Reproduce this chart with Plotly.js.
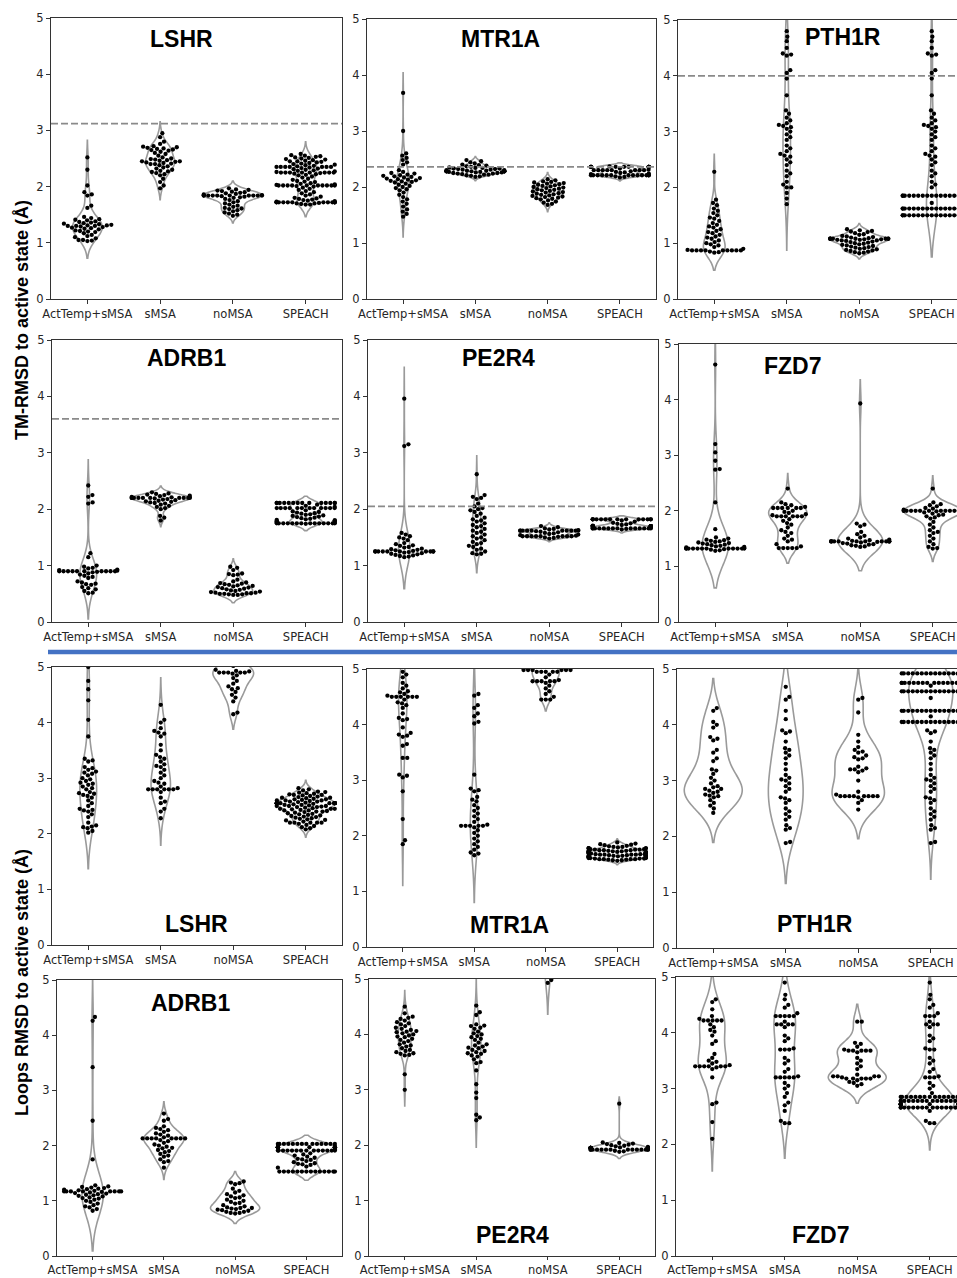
<!DOCTYPE html>
<html><head><meta charset="utf-8">
<script src="https://cdn.plot.ly/plotly-3.0.1.min.js"></script>
<style>html,body{margin:0;padding:0;overflow:hidden;background:#fff}#chart{width:980px;height:1278px}</style>
</head><body><div id="chart"></div>
<script>
const categories = ['ActTemp+sMSA','sMSA','noMSA','SPEACH'];

// ---------- TM-RMSD ----------
const LSHR_TM_act = [2.52,2.30,2.02,1.90,1.86,1.84,1.66,1.62,1.46,1.44,1.42,1.41,1.40,1.38,1.37,1.36,1.35,1.34,1.33,1.32,1.31,1.31,1.30,1.30,1.30,1.29,1.28,1.27,1.26,1.25,1.24,1.22,1.21,1.20,1.19,1.17,1.14,1.12,1.10,1.08,1.05,1.05,1.04,1.03];
const LSHR_TM_smsa = [2.95,2.88,2.80,2.76,2.72,2.71,2.70,2.69,2.68,2.67,2.66,2.65,2.64,2.62,2.60,2.58,2.55,2.52,2.50,2.49,2.48,2.47,2.46,2.45,2.45,2.44,2.43,2.42,2.41,2.40,2.40,2.38,2.36,2.34,2.32,2.30,2.28,2.27,2.26,2.24,2.22,2.20,2.14,2.08,2.02,1.97];
const LSHR_TM_nomsa = [1.97,1.95,1.94,1.93,1.92,1.91,1.90,1.89,1.88,1.87,1.86,1.85,1.84,1.84,1.84,1.84,1.84,1.84,1.84,1.84,1.84,1.84,1.83,1.82,1.81,1.80,1.78,1.76,1.74,1.72,1.70,1.68,1.66,1.64,1.62,1.61,1.60,1.58,1.56,1.54,1.52,1.50,1.48];
const LSHR_TM_speach = [2.58,2.56,2.55,2.54,2.53,2.52,2.51,2.50,2.49,2.48,2.47,2.46,2.45,2.45,2.44,2.43,2.42,2.41,2.40,2.39,2.38,2.37,2.36,2.35,2.35,2.35,2.35,2.35,2.35,2.35,2.34,2.33,2.32,2.31,2.30,2.29,2.28,2.27,2.26,2.25,2.25,2.25,2.25,2.25,2.25,2.25,2.25,2.24,2.23,2.22,2.21,2.20,2.18,2.16,2.14,2.12,2.10,2.09,2.08,2.06,2.05,2.04,2.03,2.02,2.02,2.02,2.02,2.02,2.02,2.02,2.02,2.02,2.02,2.01,2.00,1.98,1.96,1.94,1.92,1.90,1.88,1.86,1.84,1.82,1.80,1.79,1.78,1.77,1.76,1.75,1.74,1.73,1.72,1.72,1.72,1.72,1.72,1.72,1.72,1.72,1.72,1.72,1.72,1.72,1.71,1.70,1.70,1.69,1.68,1.68];

const MTR1A_TM_act = [3.68,3.00,2.60,2.56,2.52,2.48,2.44,2.40,2.30,2.27,2.25,2.24,2.22,2.21,2.20,2.19,2.18,2.17,2.16,2.15,2.14,2.13,2.12,2.11,2.10,2.09,2.08,2.06,2.04,2.02,2.00,1.98,1.96,1.94,1.90,1.86,1.82,1.78,1.74,1.70,1.65,1.60,1.56,1.52,1.47];
const MTR1A_TM_smsa = [2.48,2.46,2.44,2.42,2.40,2.39,2.38,2.37,2.36,2.35,2.34,2.34,2.33,2.33,2.32,2.32,2.31,2.31,2.30,2.30,2.29,2.29,2.28,2.28,2.28,2.28,2.28,2.28,2.28,2.28,2.27,2.27,2.26,2.26,2.25,2.25,2.24,2.24,2.23,2.22,2.22,2.21,2.20,2.19,2.18];
const MTR1A_TM_nomsa = [2.14,2.12,2.10,2.09,2.08,2.07,2.06,2.05,2.04,2.03,2.02,2.01,2.00,1.99,1.98,1.97,1.96,1.95,1.94,1.93,1.92,1.91,1.90,1.89,1.88,1.87,1.86,1.85,1.84,1.83,1.82,1.81,1.80,1.79,1.78,1.76,1.74,1.72,1.70,1.68];
const MTR1A_TM_speach = [2.37,2.36,2.36,2.36,2.36,2.36,2.36,2.36,2.36,2.36,2.36,2.36,2.36,2.36,2.33,2.31,2.30,2.30,2.30,2.30,2.30,2.30,2.30,2.30,2.28,2.27,2.26,2.25,2.24,2.23,2.21,2.21,2.21,2.21,2.21,2.21,2.21,2.21,2.21,2.21,2.21,2.21,2.21,2.19,2.18,2.17];

const PTH1R_TM_act = [2.28,1.78,1.72,1.68,1.62,1.58,1.54,1.50,1.46,1.44,1.40,1.36,1.33,1.30,1.28,1.25,1.22,1.20,1.18,1.15,1.12,1.10,1.08,1.05,1.02,1.00,0.98,0.96,0.93,0.90,0.88,0.87,0.87,0.87,0.87,0.87,0.87,0.87,0.87,0.87,0.85,0.84,0.83];
const PTH1R_TM_smsa = [4.80,4.70,4.62,4.50,4.40,4.38,4.36,4.10,4.05,3.95,3.65,3.38,3.32,3.25,3.20,3.15,3.12,3.10,3.08,3.05,3.00,2.95,2.90,2.85,2.75,2.70,2.65,2.60,2.57,2.55,2.50,2.45,2.40,2.30,2.25,2.20,2.10,2.05,2.00,2.00,1.90,1.80,1.70];
const PTH1R_TM_nomsa = [1.25,1.23,1.22,1.21,1.20,1.18,1.16,1.15,1.13,1.12,1.11,1.10,1.09,1.08,1.08,1.08,1.08,1.08,1.08,1.08,1.08,1.07,1.07,1.06,1.06,1.05,1.05,1.04,1.03,1.02,1.01,1.00,0.99,0.98,0.97,0.96,0.95,0.94,0.93,0.92,0.91,0.90,0.89,0.88,0.87,0.86,0.85,0.84,0.83,0.82];
const PTH1R_TM_speach = [4.80,4.70,4.62,4.50,4.40,4.38,4.36,4.10,4.05,3.95,3.65,3.38,3.32,3.25,3.20,3.15,3.12,3.10,3.08,3.05,3.00,2.95,2.90,2.85,2.75,2.70,2.65,2.60,2.57,2.55,2.50,2.45,2.40,2.30,2.25,2.20,2.10,2.05,2.00,
  1.85,1.85,1.85,1.85,1.85,1.85,1.85,1.85,1.85,1.85,1.85,1.85,1.85,1.85,1.85,1.85,1.85,1.85,1.72,
  1.62,1.62,1.62,1.62,1.62,1.62,1.62,1.62,1.62,1.62,1.62,1.62,1.62,1.62,1.62,1.62,1.62,1.62,
  1.50,1.50,1.50,1.50,1.50,1.50,1.50,1.50,1.50,1.50,1.50,1.50,1.50,1.50,1.50,1.50,1.50,1.50];

const ADRB1_TM_act = [2.42,2.25,2.22,2.12,2.10,1.22,1.15,1.00,0.98,0.96,0.95,0.93,0.92,0.91,0.90,0.90,0.90,0.90,0.90,0.90,0.90,0.90,0.90,0.90,0.89,0.88,0.86,0.84,0.82,0.80,0.78,0.72,0.70,0.68,0.67,0.66,0.62,0.60,0.58,0.55,0.52,0.51];
const ADRB1_TM_smsa = [2.30,2.28,2.27,2.26,2.25,2.24,2.23,2.22,2.21,2.21,2.20,2.20,2.20,2.20,2.20,2.20,2.20,2.20,2.20,2.20,2.19,2.18,2.17,2.16,2.15,2.14,2.13,2.12,2.11,2.10,2.08,2.06,2.04,2.02,2.00,1.88,1.85,1.80];
const ADRB1_TM_nomsa = [0.98,0.96,0.92,0.86,0.85,0.84,0.83,0.75,0.72,0.70,0.69,0.68,0.67,0.66,0.65,0.64,0.63,0.62,0.61,0.60,0.59,0.58,0.57,0.56,0.55,0.54,0.53,0.52,0.52,0.51,0.51,0.50,0.50,0.49,0.49,0.48,0.48];
const ADRB1_TM_speach = [2.11,2.11,2.11,2.11,2.11,2.11,2.11,2.11,2.11,2.11,2.11,2.11,2.11,2.11,2.08,2.06,2.04,2.02,2.02,2.02,2.02,2.02,2.02,2.02,2.02,2.02,2.02,2.02,2.02,1.98,1.96,1.95,1.94,1.93,1.92,1.91,1.90,1.89,1.88,1.87,1.86,1.85,1.84,1.83,1.82,1.81,1.80,1.80,1.79,1.78,1.78,1.77,1.76,1.75,1.75,1.75,1.75,1.75,1.75,1.75,1.75,1.75,1.75,1.75,1.75,1.75,1.75,1.74];

const PE2R4_TM_act = [3.96,3.15,3.12,1.58,1.55,1.52,1.50,1.48,1.45,1.40,1.38,1.36,1.35,1.33,1.32,1.30,1.29,1.28,1.27,1.26,1.25,1.25,1.25,1.25,1.25,1.25,1.25,1.25,1.25,1.25,1.24,1.23,1.22,1.21,1.20,1.19,1.18,1.17,1.16,1.15];
const PE2R4_TM_smsa = [2.62,2.25,2.22,2.20,2.18,2.10,2.05,2.02,2.00,1.98,1.95,1.92,1.88,1.85,1.82,1.80,1.78,1.75,1.72,1.70,1.68,1.65,1.62,1.60,1.58,1.55,1.52,1.50,1.48,1.45,1.42,1.40,1.38,1.35,1.33,1.30,1.28,1.25,1.22,1.21,1.20];
const PE2R4_TM_nomsa = [1.70,1.68,1.66,1.65,1.64,1.63,1.62,1.62,1.62,1.62,1.62,1.62,1.62,1.62,1.62,1.62,1.61,1.60,1.59,1.58,1.57,1.56,1.55,1.54,1.53,1.52,1.52,1.52,1.52,1.52,1.52,1.52,1.52,1.51,1.50,1.49,1.48];
const PE2R4_TM_speach = [1.82,1.82,1.82,1.82,1.82,1.82,1.82,1.82,1.82,1.82,1.82,1.82,1.82,1.82,1.80,1.78,1.76,1.75,1.74,1.73,1.72,1.71,1.70,1.70,1.70,1.70,1.70,1.70,1.70,1.70,1.70,1.70,1.68,1.67,1.66,1.66,1.66,1.66,1.66,1.66,1.66,1.66,1.66,1.66,1.66,1.66,1.66,1.66,1.65,1.64];

const FZD7_TM_act = [4.63,3.20,3.05,2.90,2.75,2.74,2.15,1.67,1.52,1.50,1.48,1.47,1.46,1.45,1.44,1.43,1.42,1.41,1.40,1.39,1.38,1.37,1.36,1.35,1.34,1.33,1.32,1.32,1.32,1.32,1.32,1.32,1.32,1.32,1.32,1.32,1.32,1.32,1.31,1.30,1.29,1.28];
const FZD7_TM_smsa = [2.40,2.15,2.12,2.10,2.07,2.05,2.05,2.05,2.05,2.05,2.05,2.00,1.98,1.96,1.94,1.92,1.90,1.90,1.90,1.90,1.90,1.90,1.85,1.82,1.78,1.75,1.70,1.65,1.62,1.60,1.55,1.50,1.48,1.45,1.40,1.36,1.33,1.33,1.33,1.33,1.33];
const FZD7_TM_nomsa = [3.93,1.77,1.75,1.72,1.62,1.58,1.55,1.52,1.50,1.48,1.47,1.46,1.45,1.45,1.45,1.45,1.45,1.45,1.45,1.45,1.45,1.45,1.45,1.45,1.44,1.43,1.42,1.41,1.40,1.39,1.38,1.37,1.36,1.35];
const FZD7_TM_speach = [2.40,2.15,2.12,2.10,2.08,2.06,2.05,2.04,2.02,2.01,2.00,2.00,2.00,2.00,2.00,2.00,2.00,2.00,2.00,2.00,2.00,2.00,2.00,2.00,1.99,1.97,1.95,1.93,1.92,1.90,1.88,1.86,1.80,1.75,1.70,1.65,1.62,1.60,1.55,1.50,1.45,1.40,1.35,1.33,1.32];

// ---------- Loops RMSD ----------
const LSHR_L_act = [5.00,4.75,4.60,4.40,4.05,3.75,3.35,3.32,3.30,3.20,3.18,3.15,3.12,3.10,3.08,3.05,3.00,2.98,2.95,2.92,2.90,2.88,2.85,2.82,2.80,2.75,2.73,2.72,2.70,2.68,2.65,2.60,2.55,2.50,2.45,2.43,2.42,2.40,2.35,2.30,2.20,2.15,2.13,2.12,2.10,2.05,2.02];
const LSHR_L_smsa = [4.32,4.05,4.00,3.90,3.85,3.82,3.80,3.75,3.60,3.50,3.42,3.38,3.35,3.30,3.25,3.22,3.20,3.15,3.10,3.05,3.00,2.95,2.92,2.90,2.85,2.82,2.80,2.80,2.80,2.80,2.80,2.80,2.75,2.65,2.58,2.55,2.45,2.40,2.28];
const LSHR_L_nomsa = [5.10,5.05,5.02,4.95,4.93,4.92,4.90,4.90,4.90,4.90,4.90,4.88,4.85,4.80,4.75,4.70,4.65,4.62,4.60,4.55,4.50,4.45,4.38,4.18,4.15];
const LSHR_L_speach = [2.82,2.80,2.78,2.76,2.75,2.74,2.73,2.72,2.71,2.70,2.70,2.69,2.68,2.67,2.66,2.65,2.65,2.64,2.63,2.62,2.62,2.61,2.60,2.60,2.60,2.59,2.58,2.58,2.57,2.56,2.55,2.55,2.55,2.55,2.55,2.55,2.55,2.55,2.55,2.55,2.55,2.55,2.55,2.55,2.54,2.53,2.52,2.52,2.51,2.50,2.50,2.50,2.49,2.48,2.48,2.47,2.46,2.45,2.45,2.45,2.44,2.43,2.42,2.42,2.41,2.40,2.40,2.39,2.38,2.37,2.36,2.35,2.34,2.33,2.32,2.31,2.30,2.29,2.28,2.27,2.26,2.25,2.24,2.22,2.20,2.20,2.20,2.20,2.20,2.18,2.16,2.14,2.12,2.10,2.08];

const MTR1A_L_act = [4.95,4.90,4.85,4.75,4.70,4.65,4.60,4.58,4.55,4.52,4.50,4.50,4.50,4.50,4.50,4.50,4.45,4.40,4.38,4.35,4.30,4.20,4.12,4.10,4.08,3.95,3.85,3.82,3.80,3.78,3.65,3.62,3.40,3.40,3.10,3.08,3.05,2.80,2.30,1.92,1.85];
const MTR1A_L_smsa = [4.55,4.52,4.35,4.30,4.20,4.15,4.05,4.02,3.10,2.85,2.82,2.80,2.70,2.65,2.62,2.55,2.50,2.45,2.40,2.35,2.30,2.25,2.20,2.18,2.18,2.18,2.18,2.18,2.15,2.10,2.05,2.00,1.95,1.90,1.85,1.80,1.75,1.70,1.68,1.65];
const MTR1A_L_nomsa = [5.20,5.10,5.05,4.98,4.98,4.98,4.98,4.98,4.98,4.95,4.95,4.95,4.95,4.95,4.90,4.85,4.80,4.78,4.78,4.78,4.78,4.78,4.75,4.70,4.65,4.60,4.55,4.50,4.45,4.45,4.45];
const MTR1A_L_speach = [1.88,1.86,1.85,1.84,1.83,1.82,1.81,1.80,1.80,1.79,1.78,1.78,1.78,1.77,1.77,1.76,1.76,1.75,1.75,1.75,1.74,1.74,1.74,1.73,1.73,1.73,1.72,1.72,1.72,1.71,1.71,1.71,1.70,1.70,1.70,1.70,1.69,1.69,1.69,1.68,1.68,1.68,1.67,1.67,1.67,1.66,1.66,1.66,1.66,1.65,1.65,1.65,1.64,1.64,1.64,1.63,1.63,1.63,1.62,1.62,1.62,1.62,1.61,1.61,1.61,1.60,1.60,1.60,1.59,1.59,1.59,1.58,1.58,1.58,1.58,1.57,1.57,1.56,1.56,1.55];

const PTH1R_L_act = [4.30,4.25,4.05,4.00,3.95,3.78,3.75,3.72,3.55,3.50,3.40,3.35,3.20,3.18,3.12,3.05,3.00,2.95,2.90,2.88,2.85,2.85,2.82,2.80,2.78,2.75,2.73,2.72,2.70,2.65,2.60,2.55,2.50,2.42];
const PTH1R_L_smsa = [4.68,4.50,4.45,4.25,4.10,3.90,3.88,3.85,3.70,3.58,3.55,3.50,3.45,3.40,3.30,3.20,3.10,3.05,3.02,3.00,2.95,2.90,2.85,2.80,2.70,2.68,2.65,2.60,2.50,2.45,2.40,2.35,2.30,2.20,2.15,2.12,1.90,1.88];
const PTH1R_L_nomsa = [4.48,4.45,4.22,3.82,3.70,3.60,3.55,3.52,3.50,3.45,3.42,3.40,3.38,3.25,3.22,3.20,3.20,3.18,3.15,3.00,2.80,2.75,2.72,2.72,2.72,2.72,2.72,2.72,2.72,2.72,2.70,2.65,2.60,2.48];
const PTH1R_L_speach = [4.92,4.92,4.92,4.92,4.92,4.92,4.92,4.92,4.92,4.92,4.92,4.92,4.92,4.92,4.92,4.92,
  4.75,4.75,4.75,4.75,4.75,4.75,4.75,4.75,4.75,4.75,4.75,4.75,4.75,4.75,4.75,4.75,4.70,
  4.60,4.60,4.60,4.60,4.60,4.60,4.60,4.60,4.60,4.60,4.60,4.60,4.60,4.60,4.60,4.60,4.48,
  4.25,4.25,4.25,4.25,4.25,4.25,4.25,4.25,4.25,4.25,4.25,4.25,4.25,4.25,4.25,4.25,4.15,
  4.05,4.05,4.05,4.05,4.05,4.05,4.05,4.05,4.05,4.05,4.05,4.05,4.05,4.05,4.05,4.05,
  3.90,3.88,3.85,3.70,3.58,3.55,3.50,3.45,3.40,3.30,3.20,3.10,3.05,3.02,3.00,2.95,2.90,2.85,2.80,2.70,2.68,2.65,2.60,2.50,2.45,2.40,2.35,2.30,2.20,2.15,2.12,1.90,1.88];

const ADRB1_L_act = [4.33,4.26,3.42,2.45,1.75,1.28,1.26,1.25,1.24,1.23,1.22,1.21,1.20,1.19,1.18,1.17,1.17,1.17,1.17,1.17,1.17,1.17,1.17,1.16,1.15,1.14,1.13,1.12,1.11,1.10,1.09,1.08,1.06,1.05,1.04,1.02,1.00,0.98,0.95,0.92,0.90,0.88,0.85,0.82];
const ADRB1_L_smsa = [2.58,2.48,2.45,2.35,2.32,2.30,2.28,2.25,2.22,2.20,2.18,2.15,2.13,2.13,2.13,2.13,2.13,2.13,2.13,2.13,2.10,2.08,2.05,2.02,2.00,1.98,1.96,1.95,1.92,1.90,1.88,1.85,1.82,1.80,1.75,1.72,1.70,1.60];
const ADRB1_L_nomsa = [1.35,1.33,1.32,1.30,1.22,1.18,1.15,1.12,1.10,1.08,1.06,1.05,1.02,1.00,0.98,0.96,0.95,0.92,0.90,0.88,0.87,0.87,0.86,0.85,0.84,0.83,0.82,0.80,0.80,0.78,0.78,0.77];
const ADRB1_L_speach = [2.03,2.03,2.03,2.03,2.03,2.03,2.03,2.03,2.03,2.03,2.03,2.03,2.03,2.03,1.97,1.97,1.97,1.97,1.97,1.97,1.97,1.97,1.97,1.97,1.97,1.97,1.93,1.91,1.91,1.91,1.91,1.91,1.91,1.91,1.91,1.91,1.91,1.91,1.91,1.91,1.91,1.86,1.84,1.82,1.80,1.78,1.76,1.75,1.74,1.72,1.70,1.68,1.67,1.66,1.65,1.62,1.60,1.53,1.53,1.53,1.53,1.53,1.53,1.53,1.53,1.53,1.53,1.53,1.53,1.53,1.53];

const PE2R4_L_act = [4.50,4.38,4.32,4.30,4.28,4.25,4.22,4.20,4.18,4.15,4.12,4.10,4.08,4.06,4.05,4.04,4.02,4.00,3.98,3.96,3.95,3.92,3.90,3.88,3.85,3.82,3.80,3.78,3.75,3.72,3.70,3.68,3.66,3.65,3.63,3.62,3.28,3.00];
const PE2R4_L_smsa = [4.52,4.40,4.35,4.18,4.16,4.15,4.12,4.10,4.05,4.02,4.00,3.97,3.95,3.92,3.90,3.85,3.82,3.80,3.78,3.76,3.75,3.72,3.70,3.68,3.66,3.65,3.62,3.60,3.55,3.50,3.48,3.35,3.10,2.95,2.85,2.55,2.50,2.45];
const PE2R4_L_nomsa = [4.93,4.98,5.05,5.12,5.20,5.28,5.35,5.42,5.50,5.58,5.65,5.72,5.80,5.90,6.00,6.10,6.20,6.35,6.50,6.65];
const PE2R4_L_speach = [2.75,2.05,2.04,2.03,2.02,2.01,2.00,1.99,1.98,1.97,1.96,1.95,1.95,1.95,1.95,1.95,1.95,1.95,1.95,1.95,1.95,1.95,1.95,1.95,1.95,1.93,1.92,1.92,1.92,1.92,1.92,1.92,1.92,1.92,1.92,1.92,1.92,1.92,1.92,1.92,1.90,1.89,1.88];

const FZD7_L_act = [4.60,4.55,4.42,4.30,4.25,4.22,4.22,4.22,4.22,4.22,4.15,4.10,4.05,4.02,3.95,3.85,3.80,3.62,3.55,3.50,3.48,3.45,3.42,3.40,3.40,3.40,3.40,3.40,3.40,3.38,3.35,3.20,2.75,2.72,2.40,2.10];
const FZD7_L_smsa = [4.90,4.68,4.60,4.50,4.45,4.35,4.30,4.30,4.30,4.30,4.30,4.20,4.15,4.15,4.15,4.15,4.10,3.95,3.90,3.85,3.72,3.70,3.70,3.70,3.55,3.50,3.45,3.35,3.30,3.22,3.20,3.20,3.20,3.20,3.20,3.10,3.05,3.00,2.92,2.85,2.75,2.70,2.60,2.42,2.38,2.38];
const FZD7_L_nomsa = [4.20,4.20,3.82,3.80,3.75,3.70,3.68,3.68,3.68,3.68,3.68,3.65,3.55,3.50,3.45,3.40,3.35,3.25,3.22,3.22,3.22,3.22,3.20,3.18,3.18,3.18,3.18,3.18,3.15,3.12,3.10,3.08,3.05];
const FZD7_L_speach = [4.90,4.68,4.60,4.50,4.45,4.35,4.30,4.30,4.30,4.20,4.15,4.15,4.15,4.10,3.95,3.90,3.85,3.72,3.70,3.70,3.55,3.50,3.45,3.35,3.30,3.22,3.20,3.20,3.20,3.10,3.05,3.00,2.92,
  2.85,2.85,2.85,2.85,2.85,2.85,2.85,2.85,2.85,2.85,2.85,2.85,2.85,2.85,2.85,2.85,
  2.78,2.78,2.78,2.78,2.78,2.78,2.78,2.78,2.78,2.78,2.78,2.78,2.78,2.78,2.78,2.78,
  2.72,2.72,2.72,2.72,2.72,2.72,2.72,2.72,2.72,2.72,2.72,2.72,2.72,2.72,2.72,2.72,
  2.66,2.66,2.66,2.66,2.66,2.66,2.66,2.66,2.66,2.66,2.66,2.66,2.66,2.66,2.66,2.66,
  2.60,2.42,2.38,2.38];

// reference (dashed) levels, null = none
const refLevels = [3.12, 2.36, 4.0, 3.6, 2.05, null, null, null, null, null, null, null];
const panelNames = ['LSHR','MTR1A','PTH1R','ADRB1','PE2R4','FZD7','LSHR','MTR1A','PTH1R','ADRB1','PE2R4','FZD7'];
const panelData = [
  [LSHR_TM_act, LSHR_TM_smsa, LSHR_TM_nomsa, LSHR_TM_speach],
  [MTR1A_TM_act, MTR1A_TM_smsa, MTR1A_TM_nomsa, MTR1A_TM_speach],
  [PTH1R_TM_act, PTH1R_TM_smsa, PTH1R_TM_nomsa, PTH1R_TM_speach],
  [ADRB1_TM_act, ADRB1_TM_smsa, ADRB1_TM_nomsa, ADRB1_TM_speach],
  [PE2R4_TM_act, PE2R4_TM_smsa, PE2R4_TM_nomsa, PE2R4_TM_speach],
  [FZD7_TM_act, FZD7_TM_smsa, FZD7_TM_nomsa, FZD7_TM_speach],
  [LSHR_L_act, LSHR_L_smsa, LSHR_L_nomsa, LSHR_L_speach],
  [MTR1A_L_act, MTR1A_L_smsa, MTR1A_L_nomsa, MTR1A_L_speach],
  [PTH1R_L_act, PTH1R_L_smsa, PTH1R_L_nomsa, PTH1R_L_speach],
  [ADRB1_L_act, ADRB1_L_smsa, ADRB1_L_nomsa, ADRB1_L_speach],
  [PE2R4_L_act, PE2R4_L_smsa, PE2R4_L_nomsa, PE2R4_L_speach],
  [FZD7_L_act, FZD7_L_smsa, FZD7_L_nomsa, FZD7_L_speach]
];

// ---------- layout geometry (pixels) ----------
const W = 980, H = 1278;
const boxes = [ // [left, right, top(=5), bottom(=0)]
  [51,342,18,299],[367,656,19,299],[678,968,20,299],
  [52,342,340,622],[368,658,340,622],[679,969,344,622],
  [52,342,667,945],[367,653,669,947],[677,967,669,948],
  [57,342,980,1256],[369,655,979,1256],[676,966,977,1256]
];
const titlePos = [[181,39],[500,39],[843,37],[186,358],[498,358],[793,366],
  [196,924],[509,925],[815,924],[190,1003],[512,1235],[821,1235]];

const DOT = 4.5, MSIZE = 4.3;

function swarm(vals, xs, ys, d, half) {
  const idx = vals.map((v,i)=>i).sort((a,b)=>vals[a]-vals[b]);
  const placed = [];
  const off = new Array(vals.length);
  for (const i of idx) {
    const y = vals[i]*ys;
    const neigh = placed.filter(p => Math.abs(p.y - y) < d);
    const cands = [0];
    for (const p of neigh) {
      const dx = Math.sqrt(d*d - (p.y-y)*(p.y-y));
      cands.push(p.x + dx, p.x - dx);
    }
    cands.sort((a,b)=>Math.abs(a)-Math.abs(b));
    let best = cands[cands.length-1];
    for (const c of cands) {
      if (neigh.every(p => (p.x-c)*(p.x-c) + (p.y-y)*(p.y-y) >= d*d - 1e-6)) { best = c; break; }
    }
    placed.push({x:best, y:y});
    off[i] = best;
  }
  return off.map(o => Math.max(-half, Math.min(half, o)));
}
function scottBw(v) {
  const n = v.length, m = v.reduce((a,b)=>a+b,0)/n;
  const sd = Math.sqrt(v.reduce((a,b)=>a+(b-m)*(b-m),0)/(n-1));
  return Math.max(sd,0.01)*Math.pow(n,-0.2);
}

const traces = [], layout = {
  width: W, height: H, margin:{l:0,r:0,t:0,b:0}, showlegend:false,
  paper_bgcolor:'#fff', plot_bgcolor:'#fff',
  violinmode:'overlay', violingap:0.2, violingroupgap:0,
  annotations:[], shapes:[]
};
const axFont = {family:'DejaVu Sans, sans-serif', size:11.5, color:'#262626'};

panelData.forEach((groups, p) => {
  const n = p+1, sfx = n===1 ? '' : String(n);
  const b = boxes[p];
  const xs = (b[1]-b[0])/4, ys = (b[3]-b[2])/5;
  layout['xaxis'+sfx] = {domain:[b[0]/W, b[1]/W], anchor:'y'+sfx, range:[-0.5,3.5], type:'linear',
    tickvals:[0,1,2,3], ticktext:categories, showline:true, mirror:true, linecolor:'#333', linewidth:1,
    ticks:'outside', ticklen:p>=9 ? 3 : 4, tickwidth:1, tickcolor:'#333', showgrid:false, zeroline:false,
    fixedrange:true, tickfont:axFont};
  layout['yaxis'+sfx] = {domain:[1-b[3]/H, 1-b[2]/H], anchor:'x'+sfx, range:[0,5],
    tickvals:[0,1,2,3,4,5], showline:true, mirror:true, linecolor:'#333', linewidth:1,
    ticks:'outside', ticklen:4, tickwidth:1, tickcolor:'#333', showgrid:false, zeroline:false,
    fixedrange:true, tickfont:axFont};
  groups.forEach((vals, k) => {
    traces.push({type:'violin', x: vals.map(()=>k), y: vals, xaxis:'x'+sfx, yaxis:'y'+sfx,
      bandwidth: scottBw(vals), spanmode:'soft', scalegroup:'g'+n, scalemode:'width',
      points:false, box:{visible:false}, meanline:{visible:false},
      line:{color:'#9a9a9a', width:1.6}, fillcolor:'rgba(0,0,0,0)', hoverinfo:'skip', name:'v'+n+'_'+k});
  });
  groups.forEach((vals, k) => {
    const off = swarm(vals, xs, ys, DOT, 0.4*xs);
    traces.push({type:'scatter', mode:'markers', x: off.map(o => k + o/xs), y: vals,
      xaxis:'x'+sfx, yaxis:'y'+sfx, cliponaxis:true, hoverinfo:'skip',
      marker:{color:'#000', size:MSIZE, line:{width:0}}});
  });
  if (refLevels[p] !== null) {
    layout.shapes.push({type:'line', xref:'x'+sfx+' domain', x0:0, x1:1, yref:'y'+sfx,
      y0:refLevels[p], y1:refLevels[p], line:{color:'#8a8a8a', width:1.8, dash:'7px,3px'}});
  }
  layout.annotations.push({xref:'paper', yref:'paper', x:titlePos[p][0]/W, y:1-titlePos[p][1]/H,
    xanchor:'center', yanchor:'middle', showarrow:false, text:'<b>'+panelNames[p]+'</b>',
    font:{family:'Liberation Sans, Arial, sans-serif', size:23, color:'#000'}});
});

layout.annotations.push({xref:'paper', yref:'paper', x:22/W, y:1-320/H, xanchor:'center', yanchor:'middle',
  showarrow:false, textangle:-90, text:'<b>TM-RMSD to active state (Å)</b>',
  font:{family:'Liberation Sans, Arial, sans-serif', size:18, color:'#000'}});
layout.annotations.push({xref:'paper', yref:'paper', x:22/W, y:1-983/H, xanchor:'center', yanchor:'middle',
  showarrow:false, textangle:-90, text:'<b>Loops RMSD to active state (Å)</b>',
  font:{family:'Liberation Sans, Arial, sans-serif', size:18, color:'#000'}});
layout.shapes.push({type:'line', xref:'paper', yref:'paper', x0:48/W, x1:1, y0:1-652/H, y1:1-652/H,
  line:{color:'#4472C4', width:4.5}});

Plotly.newPlot('chart', traces, layout, {displayModeBar:false, staticPlot:true});
</script>
</body></html>
